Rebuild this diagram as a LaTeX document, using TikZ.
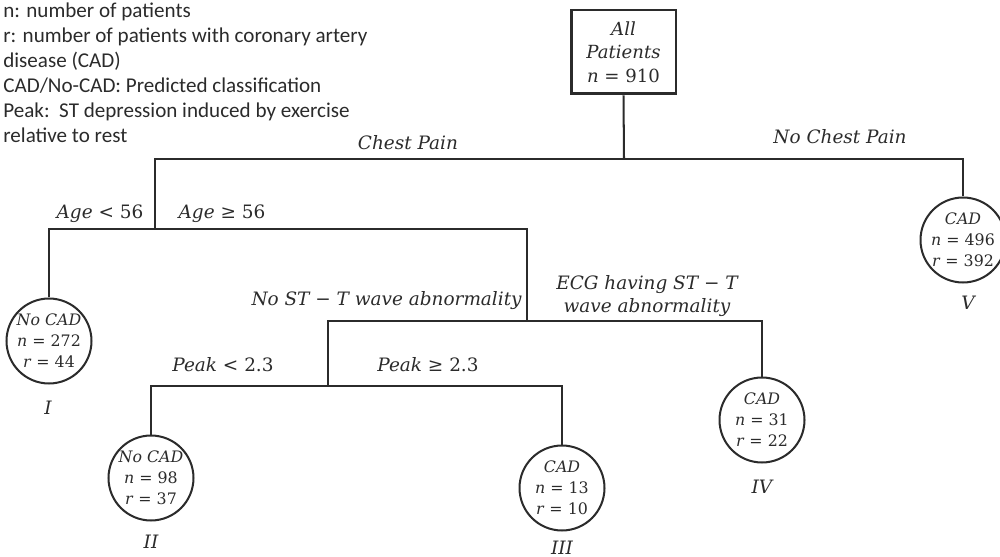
\documentclass[tikz,border=0pt]{standalone}
\usepackage{fontspec}
\setmainfont{DejaVu Serif}
\newfontfamily\legendfont{Carlito}
\definecolor{ink}{HTML}{2B2B2B}
\begin{document}
\begin{tikzpicture}[x=0.02cm,y=-0.02cm,
  every node/.style={text=ink},
  conn/.style={draw=ink,line width=1.15pt},
  leaf/.style={circle,draw=ink,line width=1.15pt,minimum size=1.7cm,inner sep=0pt,align=center,font=\fontsize{9}{12}\selectfont},
  rootbox/.style={rectangle,draw=ink,line width=1.7pt,minimum width=2.1cm,minimum height=1.68cm,align=center,inner sep=0pt,font=\fontsize{10.3}{13.3}\selectfont},
  elabel/.style={font=\fontsize{10.5}{13.6}\selectfont\itshape,inner sep=0pt},
  roman/.style={font=\fontsize{10.5}{12}\selectfont\itshape,inner sep=0pt},
  legend/.style={font=\fontsize{12}{14.2}\selectfont\legendfont,align=left,inner sep=0pt}]
\useasboundingbox (0,0) rectangle (1000,557);

% legend
\node[legend,anchor=north west] (leg) at (3,3) {n: number of patients\\
r: number of patients with coronary artery\\
disease (CAD)\\
CAD/No-CAD: Predicted classification\\
Peak:\ \ ST depression induced by exercise\\
relative to rest};

% nodes
\node[rootbox] (root) at (623.5,52) {\textit{All}\\\textit{Patients}\\\textit{n} = 910};
\node[leaf] (I) at (49,341) {\textit{No CAD}\\\textit{n} = 272\\\textit{r} = 44};
\node[leaf] (II) at (151,478) {\textit{No CAD}\\\textit{n} = 98\\\textit{r} = 37};
\node[leaf] (III) at (562,488) {\textit{CAD}\\\textit{n} = 13\\\textit{r} = 10};
\node[leaf] (IV) at (762,420) {\textit{CAD}\\\textit{n} = 31\\\textit{r} = 22};
\node[leaf] (V) at (963,240) {\textit{CAD}\\\textit{n} = 496\\\textit{r} = 392};

% junctions
\coordinate (j1) at (624,159);
\coordinate (j2) at (155,229);
\coordinate (j3) at (527,321);
\coordinate (j4) at (328,386);

% connectors
\draw[conn] (root.south) -- (j1);
\draw[conn] (j2) |- (j1) -| (V.north);
\draw[conn] (I.north) |- (j2) -| (j3);
\draw[conn] (j4) |- (j3) -| (IV.north);
\draw[conn] (II.north) |- (j4) -| (III.north);

% edge labels
\node[elabel] (lcp) at (408,143) {Chest Pain};
\node[elabel] (lncp) at (840,137) {No Chest Pain};
\node[elabel] (lage1) at (100,214) {Age\upshape\ <\ 56};
\node[elabel] (lage2) at (222,214) {Age\upshape\ ≥\ 56};
\node[elabel,anchor=east] (lnost) at (522,301) {No ST\upshape\ −\ \itshape T wave abnormality};
\node[elabel,align=center] (lecg) at (647,296) {ECG having ST\upshape\ −\ \itshape T\\wave abnormality};
\node[elabel] (lpk1) at (223,365) {Peak\upshape\ <\ 2.3};
\node[elabel] (lpk2) at (428,365) {Peak\upshape\ ≥\ 2.3};

% roman labels
\node[roman] (rI) at (48,408) {I};
\node[roman] (rII) at (151,542) {II};
\node[roman] (rIII) at (562,548) {III};
\node[roman] (rIV) at (762,487) {IV};
\node[roman] (rV) at (968,303) {V};
\end{tikzpicture}
\end{document}
